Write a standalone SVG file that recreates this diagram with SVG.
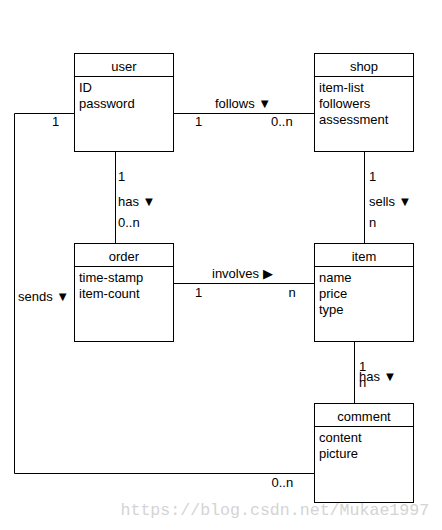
<svg xmlns="http://www.w3.org/2000/svg" width="442" height="530" viewBox="0 0 442 530">
<style>
text{font-family:"Liberation Sans",Arial,sans-serif;font-size:13px;fill:#000}
.c{text-anchor:middle}
.box{fill:#fff;stroke:#000;stroke-width:1}
.ln{fill:none;stroke:#000;stroke-width:1}
.wm{font-family:"Liberation Mono","Courier New",monospace;font-size:16.6px;fill:#d4d4d4}
</style>
<rect width="442" height="530" fill="#fff"/>
<g id="connectors">
<polyline class="ln" points="74,113.5 14.5,113.5 14.5,473.5 314,473.5"/>
<line class="ln" x1="174" y1="113.5" x2="314" y2="113.5"/>
<line class="ln" x1="115.5" y1="152" x2="115.5" y2="243"/>
<line class="ln" x1="364.5" y1="152" x2="364.5" y2="243"/>
<line class="ln" x1="174" y1="283.5" x2="314" y2="283.5"/>
<line class="ln" x1="354.5" y1="342" x2="354.5" y2="403"/>
<text x="52" y="126">1</text>
<text x="215" y="107.7">follows ▼</text>
<text x="195" y="126">1</text>
<text x="271" y="126">0..n</text>
<text x="118" y="181">1</text>
<text x="118" y="205.7">has ▼</text>
<text x="118" y="226.7">0..n</text>
<text x="369" y="181">1</text>
<text x="369" y="205.7">sells ▼</text>
<text x="369" y="226.7">n</text>
<text x="212" y="278.3">involves ▶</text>
<text x="195" y="296.7">1</text>
<text x="288.5" y="296.7">n</text>
<text x="18" y="300.7">sends ▼</text>
<text x="359" y="370.7">1</text>
<text x="359" y="380.5">has ▼</text>
<text x="359" y="386.5">n</text>
<text x="271.5" y="486.7">0..n</text>
</g>
<g id="user">
<rect class="box" x="74.5" y="53.5" width="99" height="98"/>
<line class="ln" x1="74.5" y1="76.5" x2="173.5" y2="76.5"/>
<text class="c" x="124" y="70.7">user</text>
<text x="79" y="91.7">ID</text>
<text x="79" y="107.7">password</text>
</g>
<g id="shop">
<rect class="box" x="314.5" y="53.5" width="99" height="98"/>
<line class="ln" x1="314.5" y1="76.5" x2="413.5" y2="76.5"/>
<text class="c" x="364" y="70.7">shop</text>
<text x="319" y="91.7">item-list</text>
<text x="319" y="107.7">followers</text>
<text x="319" y="123.7">assessment</text>
</g>
<g id="order">
<rect class="box" x="74.5" y="243.5" width="99" height="98"/>
<line class="ln" x1="74.5" y1="266.5" x2="173.5" y2="266.5"/>
<text class="c" x="124" y="260.7">order</text>
<text x="79" y="281.7">time-stamp</text>
<text x="79" y="297.7">item-count</text>
</g>
<g id="item">
<rect class="box" x="314.5" y="243.5" width="99" height="98"/>
<line class="ln" x1="314.5" y1="266.5" x2="413.5" y2="266.5"/>
<text class="c" x="364" y="260.7">item</text>
<text x="319" y="281.7">name</text>
<text x="319" y="297.7">price</text>
<text x="319" y="313.7">type</text>
</g>
<g id="comment">
<rect class="box" x="314.5" y="403.5" width="99" height="99"/>
<line class="ln" x1="314.5" y1="426.5" x2="413.5" y2="426.5"/>
<text class="c" x="364" y="421">comment</text>
<text x="319" y="441.7">content</text>
<text x="319" y="457.7">picture</text>
</g>
<text class="wm" x="120.5" y="515">https://blog.csdn.net/Mukae1997</text>
</svg>
